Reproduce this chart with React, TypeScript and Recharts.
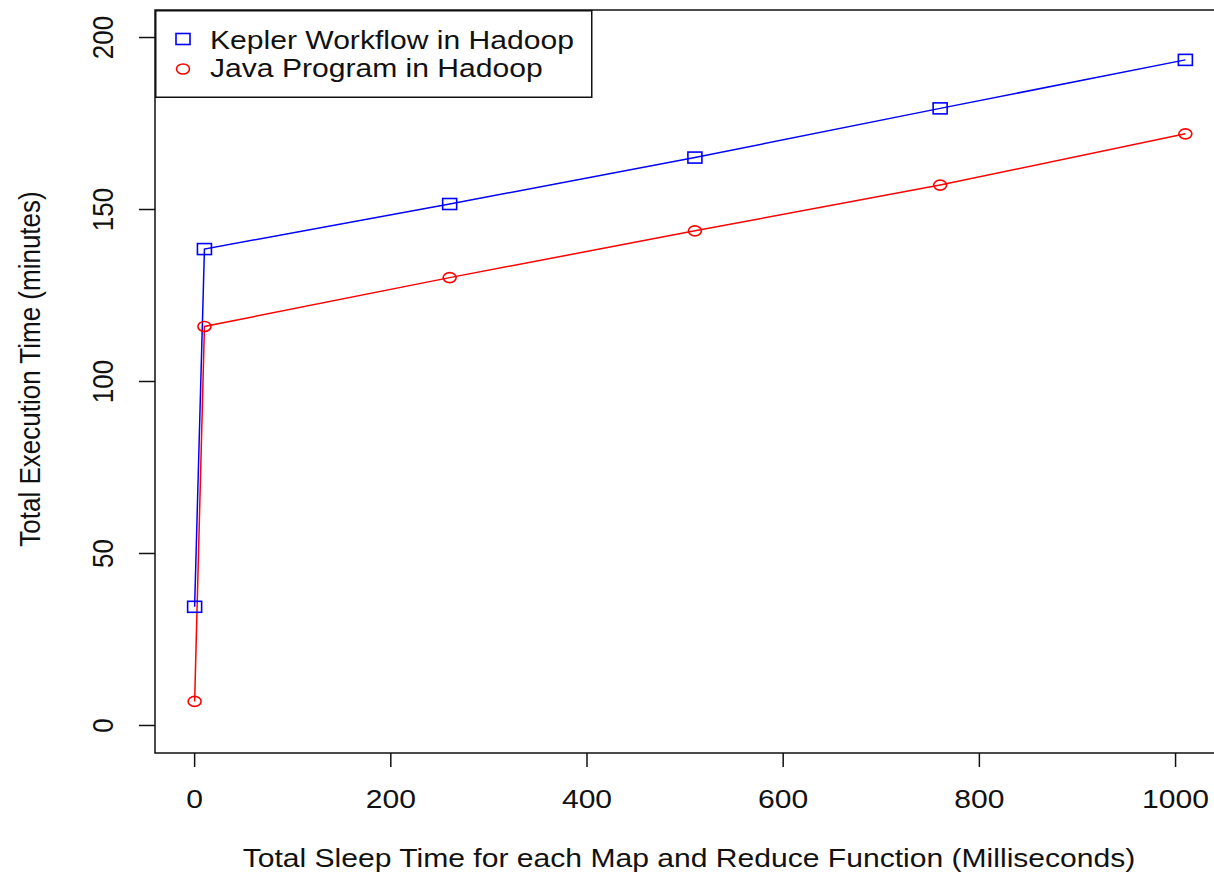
import React from 'react';
import { LineChart, Line, XAxis, YAxis, ReferenceArea, Legend, Label } from 'recharts';

const sleepTimes = [0, 10, 260, 510, 760, 1010];
const keplerTimes = [34.5, 138.5, 151.6, 165.1, 179.4, 193.5];
const javaTimes = [7.0, 116.0, 130.2, 143.8, 157.1, 172.0];
const xTicks = [0, 200, 400, 600, 800, 1000];
const yTicks = [0, 50, 100, 150, 200];
const seriesNames = ['Kepler Workflow in Hadoop', 'Java Program in Hadoop'];
const xTitle = 'Total Sleep Time for each Map and Reduce Function (Milliseconds)';
const yTitle = 'Total Execution Time (minutes)';

const data = sleepTimes.map((x, i) => ({ x, kepler: keplerTimes[i], java: javaTimes[i] }));

const FONT = '"Liberation Sans", Arial, Helvetica, sans-serif';
const SX = 1.157;
const FS = 26;
const INK = '#111';

const XTick = (props: any) => {
  const { x, y, payload } = props;
  return (
    <text
      transform={`translate(${x}, ${y + 39}) scale(${SX}, 1)`}
      textAnchor="middle"
      fontFamily={FONT}
      fontSize={FS}
      fill={INK}
    >
      {payload.value}
    </text>
  );
};

const YTick = (props: any) => {
  const { x, y, payload } = props;
  return (
    <text
      transform={`translate(${x - 24}, ${y}) rotate(-90) scale(1, ${SX})`}
      textAnchor="middle"
      fontFamily={FONT}
      fontSize={FS}
      fill={INK}
    >
      {payload.value}
    </text>
  );
};

const SquareDot = (props: any) => {
  const { cx, cy, index } = props;
  if (cx == null || cy == null) return <g key={`s${index}`} />;
  return (
    <rect key={`s${index}`} x={cx - 7} y={cy - 5.5} width={14} height={11} fill="none" stroke="#0000ff" strokeWidth={1.6} />
  );
};

const CircleDot = (props: any) => {
  const { cx, cy, index } = props;
  if (cx == null || cy == null) return <g key={`c${index}`} />;
  return <ellipse key={`c${index}`} cx={cx} cy={cy} rx={6.5} ry={5} fill="none" stroke="#ff0000" strokeWidth={1.6} />;
};

const LegendBox = () => (
  <svg width={440} height={90} style={{ display: 'block' }}>
    <rect x={0.75} y={0.75} width={436} height={86.5} fill="#fff" stroke={INK} strokeWidth={1.5} />
    <rect x={21} y={23.5} width={14} height={11} fill="none" stroke="#0000ff" strokeWidth={1.6} />
    <text transform={`translate(55, 39) scale(${SX}, 1)`} fontFamily={FONT} fontSize={FS} fill={INK}>
      {seriesNames[0]}
    </text>
    <ellipse cx={28} cy={59} rx={6.5} ry={5} fill="none" stroke="#ff0000" strokeWidth={1.6} />
    <text transform={`translate(55, 67) scale(${SX}, 1)`} fontFamily={FONT} fontSize={FS} fill={INK}>
      {seriesNames[1]}
    </text>
  </svg>
);

export default function App() {
  return (
    <div style={{ position: 'absolute', left: 0, top: 0, width: 1214, height: 873, overflow: 'hidden', background: '#fff' }}>
      <LineChart width={1240} height={873} data={data} margin={{ top: 10, right: 15, bottom: 0, left: 0 }}>
        <XAxis
          dataKey="x"
          type="number"
          domain={[-40.4, 1050.4]}
          ticks={xTicks}
          allowDataOverflow
          height={120}
          axisLine={false}
          tickSize={14}
          tickLine={{ stroke: INK, strokeWidth: 1.5 }}
          tick={<XTick />}
        >
          <Label
            content={() => (
              <text
                transform={`translate(689, 867) scale(${SX}, 1)`}
                textAnchor="middle"
                fontFamily={FONT}
                fontSize={FS}
                fill={INK}
              >
                {xTitle}
              </text>
            )}
          />
        </XAxis>
        <YAxis
          type="number"
          domain={[-8, 208]}
          ticks={yTicks}
          allowDataOverflow
          width={155}
          axisLine={false}
          tickSize={16}
          tickLine={{ stroke: INK, strokeWidth: 1.5 }}
          tick={<YTick />}
        >
          <Label
            content={() => (
              <text
                transform={`translate(40, 369) rotate(-90) scale(1, ${SX})`}
                textAnchor="middle"
                fontFamily={FONT}
                fontSize={FS}
                fill={INK}
              >
                {yTitle}
              </text>
            )}
          />
        </YAxis>
        <ReferenceArea x1={-40.4} x2={1050.4} y1={-8} y2={208} fill="none" stroke={INK} strokeWidth={1.5} ifOverflow="visible" />
        <Line
          type="linear"
          dataKey="kepler"
          name={seriesNames[0]}
          stroke="#0000ff"
          strokeWidth={1.5}
          dot={SquareDot}
          activeDot={false}
          isAnimationActive={false}
        />
        <Line
          type="linear"
          dataKey="java"
          name={seriesNames[1]}
          stroke="#ff0000"
          strokeWidth={1.5}
          dot={CircleDot}
          activeDot={false}
          isAnimationActive={false}
        />
        <Legend
          layout="horizontal"
          verticalAlign="middle"
          align="center"
          content={() => <LegendBox />}
          wrapperStyle={{ position: 'absolute', left: 155, top: 10, width: 440, height: 90, margin: 0, padding: 0 }}
        />
      </LineChart>
    </div>
  );
}
